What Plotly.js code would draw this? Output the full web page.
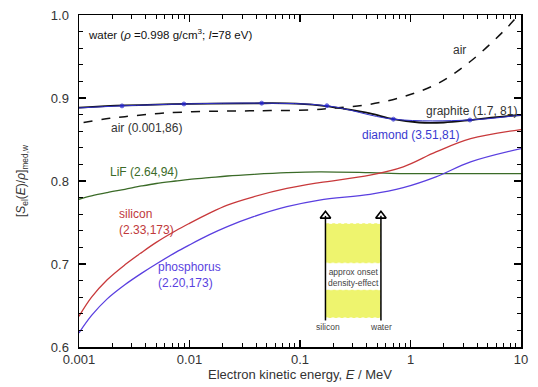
<!DOCTYPE html>
<html>
<head>
<meta charset="utf-8">
<script src="https://cdn.plot.ly/plotly-3.0.1.min.js"></script>
<style>html,body{margin:0;padding:0;background:#fff;}#chart{width:538px;height:387px;}</style>
</head>
<body>
<div id="chart"></div>
<script>
// ---- data ----
const siliconE = [0.001, 0.0013, 0.0018, 0.0026, 0.0037, 0.005, 0.0075, 0.01, 0.015, 0.022, 0.038, 0.076, 0.15, 0.43, 0.86, 1.7, 3.5, 10];
const siliconV = [0.637, 0.660, 0.681, 0.699, 0.714, 0.726, 0.740, 0.749, 0.761, 0.771, 0.781, 0.791, 0.798, 0.807, 0.817, 0.835, 0.851, 0.862];

const phosE = [0.001, 0.0013, 0.0018, 0.0026, 0.0037, 0.005, 0.0075, 0.01, 0.015, 0.022, 0.038, 0.076, 0.15, 0.43, 0.86, 1.7, 3.5, 10];
const phosV = [0.617, 0.638, 0.658, 0.675, 0.689, 0.700, 0.714, 0.723, 0.735, 0.745, 0.757, 0.769, 0.777, 0.784, 0.792, 0.805, 0.823, 0.839];

const lifE = [0.001, 0.0013, 0.0018, 0.0026, 0.0037, 0.005, 0.0075, 0.01, 0.015, 0.022, 0.038, 0.076, 0.15, 0.43, 0.86, 1.7, 3.5, 10];
const lifV = [0.778, 0.782, 0.786, 0.790, 0.794, 0.797, 0.800, 0.802, 0.804, 0.806, 0.808, 0.810, 0.811, 0.810, 0.809, 0.809, 0.809, 0.809];

const graphiteE = [0.001, 0.0026, 0.01, 0.038, 0.076, 0.15, 0.25, 0.43, 0.7, 1.2, 2.0, 3.5, 6.0, 10];
const graphiteV = [0.8883, 0.891, 0.893, 0.8936, 0.8935, 0.8912, 0.887, 0.8815, 0.8745, 0.8705, 0.8705, 0.8735, 0.877, 0.8795];

const diamondE = [0.001, 0.00245, 0.0089, 0.045, 0.175, 0.7, 3.45, 10];
const diamondV = [0.888, 0.8905, 0.8928, 0.8938, 0.8907, 0.8745, 0.8735, 0.8795];
const diamondMarkerSize = [0, 4, 4, 4, 4, 4, 4, 0];

const airE = [0.0011, 0.0019, 0.0026, 0.0062, 0.021, 0.035, 0.054, 0.13, 0.22, 0.43, 0.86, 1.74, 3.45, 6.9, 9.5];
const airV = [0.8705, 0.8755, 0.8775, 0.882, 0.8843, 0.8845, 0.8848, 0.8858, 0.8883, 0.8924, 0.9016, 0.917, 0.9437, 0.980, 1.0];

// onset of density effect (silicon, water), MeV
const onsetE = [0.17, 0.54];
const onsetLabels = ["silicon", "water"];
const boxUpper = [0.701, 0.749];
const boxLower = [0.635, 0.669];
const arrowTop = 0.758;

const xTickVals = [0.001, 0.01, 0.1, 1, 10];
const xTickText = ["0.001", "0.01", "0.1", "1", "10"];
const yTickVals = [0.6, 0.7, 0.8, 0.9, 1.0];
const yTickText = ["0.6", "0.7", "0.8", "0.9", "1.0"];

// minor ticks on the log axis: 2..9 per decade
const xMinor = [];
for (let k = -3; k < 1; k++) for (let m = 2; m <= 9; m++) xMinor.push(m * Math.pow(10, k));

const FONT = "Liberation Sans, Arial, sans-serif";

function box(lo, hi) {
  return {
    x: [onsetE[0], onsetE[1], onsetE[1], onsetE[0], onsetE[0]],
    y: [lo, lo, hi, hi, lo],
    mode: "lines", fill: "toself", fillcolor: "#eef46e",
    line: {color: "#ffffff", width: 1, dash: "dot"},
    hoverinfo: "skip", showlegend: false
  };
}

const traces = [
  box(boxUpper[0], boxUpper[1]),
  box(boxLower[0], boxLower[1]),
  {x: [onsetE[0], onsetE[0]], y: [boxLower[0] - 0.003, arrowTop], mode: "lines", line: {color: "#000", width: 1.5}, showlegend: false},
  {x: [onsetE[1], onsetE[1]], y: [boxLower[0] - 0.003, arrowTop], mode: "lines", line: {color: "#000", width: 1.5}, showlegend: false},
  {x: onsetE, y: [arrowTop, arrowTop], mode: "markers",
   marker: {symbol: "triangle-up-open", size: 9, color: "#000", line: {width: 1.6, color: "#000"}}, showlegend: false},
  {x: lifE, y: lifV, mode: "lines", line: {color: "#3b6b28", width: 1.3, shape: "spline"}, showlegend: false},
  {x: siliconE, y: siliconV, mode: "lines", line: {color: "#c8393b", width: 1.3, shape: "spline"}, showlegend: false},
  {x: phosE, y: phosV, mode: "lines", line: {color: "#5a3fe0", width: 1.3, shape: "spline"}, showlegend: false},
  {x: airE, y: airV, mode: "lines", line: {color: "#111", width: 1.5, dash: "dash", shape: "spline"}, showlegend: false},
  {x: graphiteE, y: graphiteV, mode: "lines", line: {color: "#111", width: 1.8, shape: "spline"}, showlegend: false},
  {x: diamondE, y: diamondV, mode: "lines+markers", line: {color: "#3030c8", width: 1, shape: "spline"},
   marker: {color: "#2020e0", size: diamondMarkerSize}, showlegend: false}
];

function px2paper(px, py) { return {x: (px - 79) / 442, y: (347 - py) / 332}; }
function lab(text, px, py, color, size, xanchor, align) {
  const p = px2paper(px, py);
  return {text: text, x: p.x, y: p.y, xref: "paper", yref: "paper", showarrow: false,
    xanchor: xanchor || "left", yanchor: "middle", align: align || "left",
    font: {family: FONT, size: size, color: color}};
}

const annotations = [
  lab("water (<i>ρ</i> =0.998 g/cm<sup>3</sup>; <i>I</i>=78 eV)", 86, 34, "#111", 11.5),
  lab("air", 459, 50, "#333", 12, "center"),
  lab("graphite (1.7, 81)", 519, 111, "#333", 12, "right"),
  lab("diamond (3.51,81)", 360, 135, "#3a3ad0", 12),
  lab("air (0.001,86)", 109, 128, "#333", 12),
  lab("LiF (2.64,94)", 108, 172, "#3b6b28", 12),
  lab("silicon<br>(2.33,173)", 117, 222, "#c0393b", 12),
  lab("phosphorus<br>(2.20,173)", 156, 275, "#5a3fe0", 12),
  lab("approx onset<br>density-effect", 353, 277, "#444", 8.5, "center", "center"),
  lab(onsetLabels[0], 328, 327, "#444", 8.5, "center"),
  lab(onsetLabels[1], 381, 327, "#444", 8.5, "center")
];

const layout = {
  width: 538, height: 387,
  margin: {l: 79, r: 17, t: 15, b: 40},
  paper_bgcolor: "#fff", plot_bgcolor: "#fff",
  font: {family: FONT, color: "#333"},
  showlegend: false,
  xaxis: {
    type: "log", range: [-3, 1], tickvals: xTickVals, ticktext: xTickText,
    ticks: "inside", ticklen: 7, tickwidth: 1.3, tickcolor: "#000",
    minor: {tickvals: xMinor, ticks: "inside", ticklen: 4, tickwidth: 1, tickcolor: "#000"},
    showline: true, linecolor: "#000", linewidth: 1.5, mirror: "ticks",
    showgrid: false, zeroline: false,
    tickfont: {size: 13, color: "#333"},
    title: {text: "Electron kinetic energy, <i>E</i> / MeV", font: {size: 13, color: "#333"}, standoff: 2},
    automargin: false
  },
  yaxis: {
    range: [0.6, 1.0], tickvals: yTickVals, ticktext: yTickText,
    ticks: "inside", ticklen: 7, tickwidth: 1.3, tickcolor: "#000",
    minor: {dtick: 0.02, ticks: "inside", ticklen: 4, tickwidth: 1, tickcolor: "#000"},
    showline: true, linecolor: "#000", linewidth: 1.5, mirror: "ticks",
    showgrid: false, zeroline: false,
    tickfont: {size: 13, color: "#333"}, ticklabelstandoff: 6,
    title: {text: "[<i>S</i><sub>el</sub>(<i>E</i>)/<i>ρ</i>]<sub>med,w</sub>", font: {size: 12, color: "#333"}, standoff: 22},
    automargin: false
  },
  annotations: annotations
};

Plotly.newPlot("chart", traces, layout, {staticPlot: true, displayModeBar: false});
</script>
</body>
</html>
